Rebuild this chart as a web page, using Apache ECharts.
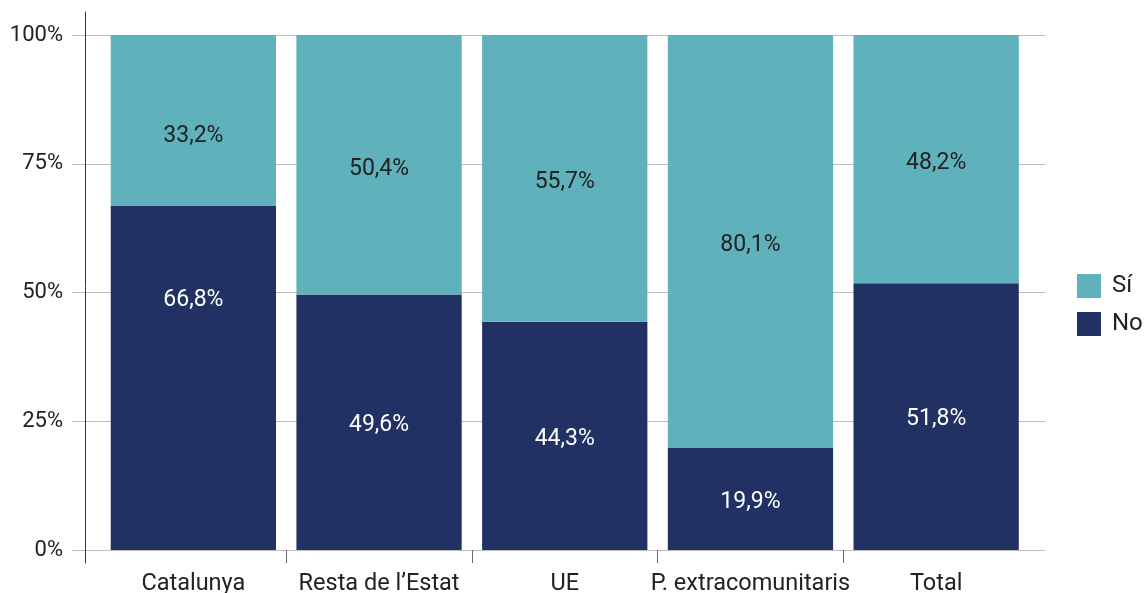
<!DOCTYPE html>
<html>
<head>
<meta charset="utf-8">
<script src="https://cdn.jsdelivr.net/npm/echarts@6/dist/echarts.min.js"></script>
<style>
  html, body { margin: 0; padding: 0; background: #fff; }
  #chart { width: 1146px; height: 593px; }
</style>
</head>
<body>
<div id="chart"></div>
<script>
// dades
var categories = ['Catalunya', 'Resta de l\u2019Estat', 'UE', 'P. extracomunitaris', 'Total'];
var siValues = [33.2, 50.4, 55.7, 80.1, 48.2];
var noValues = [66.8, 49.6, 44.3, 19.9, 51.8];
var yTicks = [0, 25, 50, 75, 100];

// separadors entre categories (eix auxiliar, sense etiquetes)
var boundaries = [0, 1, 2, 3, 4, 5];

var font = 'Roboto';
var fmt = function (p) { return p.value.toFixed(1).replace('.', ',') + '%'; };

var chart = echarts.init(document.getElementById('chart'));

// Catalunya labels sit off-centre in the original
var noData = noValues.map(function (v, i) {
  return i === 0 ? {value: v, label: {offset: [0, -78]}} : v;
});
var siData = siValues.map(function (v, i) {
  return i === 0 ? {value: v, label: {offset: [0, 16]}} : v;
});

var option = {
  animation: false,
  textStyle: {fontFamily: font},
  legend: {
    data: ['Sí', 'No'],
    orient: 'vertical',
    left: 1072,
    top: 269,
    itemWidth: 24,
    itemHeight: 24,
    itemGap: 14,
    icon: 'rect',
    textStyle: {fontSize: 24, color: '#222', fontFamily: font, padding: [0, 0, 0, 6]}
  },
  grid: [
    // gridlines + y labels
    {left: 72, right: 101, top: 35, bottom: 43, outerBoundsMode: 'none'},
    // y axis line
    {left: 85, right: 101, top: 12, bottom: 30, outerBoundsMode: 'none'},
    // bars
    {left: 100.5, right: 117, top: 35, bottom: 43, outerBoundsMode: 'none'}
  ],
  xAxis: [
    {gridIndex: 0, type: 'value', show: false},
    {gridIndex: 1, type: 'value', show: false},
    {
      gridIndex: 2,
      type: 'category',
      position: 'bottom',
      data: categories,
      axisLine: {show: false},
      axisTick: {show: false},
      axisLabel: {fontSize: 23.5, color: '#222', margin: 22, fontFamily: font, interval: 0}
    },
    {
      gridIndex: 2,
      type: 'category',
      position: 'bottom',
      boundaryGap: false,
      data: boundaries,
      axisLine: {show: false},
      axisLabel: {show: false},
      axisTick: {
        show: true,
        length: 13,
        lineStyle: {color: '#666'},
        interval: function (index) { return index > 0 && index < boundaries.length - 1; }
      }
    }
  ],
  yAxis: [
    {
      gridIndex: 0,
      type: 'value',
      min: yTicks[0],
      max: yTicks[yTicks.length - 1],
      interval: 25,
      axisLine: {show: false},
      axisTick: {show: false},
      splitLine: {lineStyle: {color: '#bdbdbd', width: 1}},
      axisLabel: {formatter: '{value}%', fontSize: 22, color: '#222', margin: 9, fontFamily: font}
    },
    {
      gridIndex: 1,
      type: 'value',
      axisLine: {show: true, lineStyle: {color: '#333', width: 1}},
      axisTick: {show: false},
      axisLabel: {show: false},
      splitLine: {show: false}
    },
    {gridIndex: 2, type: 'value', min: 0, max: 100, show: false}
  ],
  series: [
    {
      name: 'No',
      type: 'bar',
      stack: 'total',
      xAxisIndex: 2,
      yAxisIndex: 2,
      barCategoryGap: '11%',
      data: noData,
      itemStyle: {color: '#223163'},
      label: {show: true, position: 'inside', offset: [0, 3], formatter: fmt, fontSize: 23, color: '#fff', fontFamily: font}
    },
    {
      name: 'Sí',
      type: 'bar',
      stack: 'total',
      xAxisIndex: 2,
      yAxisIndex: 2,
      barCategoryGap: '11%',
      data: siData,
      itemStyle: {color: '#5fb1bb'},
      label: {show: true, position: 'inside', offset: [0, 4], formatter: fmt, fontSize: 23, color: '#222', fontFamily: font}
    }
  ]
};

chart.setOption(option);
</script>
</body>
</html>
